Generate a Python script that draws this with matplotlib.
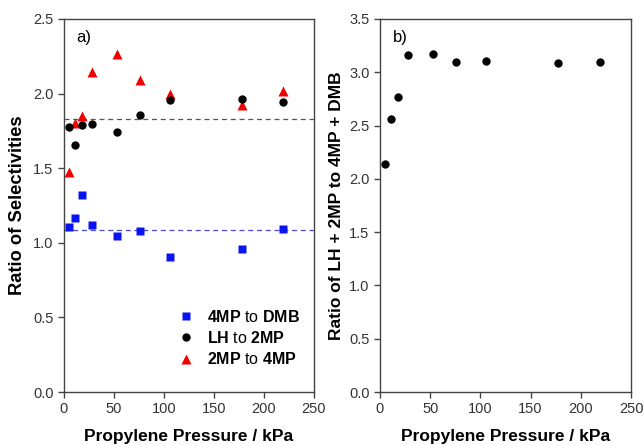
import numpy as np
import matplotlib
matplotlib.use("Agg")
import matplotlib.pyplot as plt

plt.rcParams['font.family'] = ['Liberation Sans', 'DejaVu Sans']
plt.rcParams['mathtext.fontset'] = 'custom'
plt.rcParams['mathtext.rm'] = 'Liberation Sans'
plt.rcParams['mathtext.bf'] = 'Liberation Sans:bold'

# propylene pressure (kPa)
pressure = [5, 10.5, 17.5, 27.5, 53, 75.5, 106, 177.5, 219]

# panel a) ratios of selectivities
r_4mp_dmb = [1.106, 1.166, 1.322, 1.119, 1.048, 1.079, 0.907, 0.961, 1.092]
r_lh_2mp = [1.776, 1.655, 1.787, 1.796, 1.745, 1.857, 1.955, 1.964, 1.944]
r_2mp_4mp = [1.474, 1.80, 1.85, 2.145, 2.265, 2.09, 2.0, 1.925, 2.02]
avg_4mp_dmb = 1.083
avg_lh_2mp = 1.832

# panel b) ratio of LH + 2MP to 4MP + DMB
r_total = [2.139, 2.564, 2.77, 3.158, 3.174, 3.093, 3.102, 3.083, 3.099]

fig = plt.figure(figsize=(6.44, 4.45), dpi=100)
ax1 = fig.add_axes([64/644, 1 - 392/445, 250/644, 373/445])
ax2 = fig.add_axes([380/644, 1 - 392/445, 251/644, 373/445])

ax1.axhline(avg_lh_2mp, color='#555555', ls=(0, (4, 3)), lw=0.9, zorder=1)
ax1.axhline(avg_4mp_dmb, color='#4a4ae8', ls=(0, (4, 3)), lw=0.9, zorder=1)
ax1.plot(pressure, r_4mp_dmb, 's', color='#0a14f0', ms=5.2, mec='none',
         label=r'$\bf{4MP}$ to $\bf{DMB}$', zorder=3)
ax1.plot(pressure, r_lh_2mp, 'o', color='black', ms=6, mec='none',
         label=r'$\bf{LH}$ to $\bf{2MP}$', zorder=3)
ax1.plot(pressure, r_2mp_4mp, '^', color='#f00000', ms=7, mec='none',
         label=r'$\bf{2MP}$ to $\bf{4MP}$', zorder=2)
ax1.set_ylim(0, 2.5)
ax1.set_yticks(np.arange(0, 2.51, 0.5))
ax1.set_ylabel('Ratio of Selectivities', fontsize=13.2, fontweight='bold', labelpad=5)
ax1.text(0.05, 0.97, 'a)', transform=ax1.transAxes, fontsize=12, va='top')
leg = ax1.legend(loc='lower right', bbox_to_anchor=(1.0, 0.028), frameon=False,
                 fontsize=11.5, handletextpad=0.55, labelspacing=0.33,
                 handlelength=1.5)

ax2.plot(pressure, r_total, 'o', color='black', ms=6, mec='none')
ax2.set_ylim(0, 3.5)
ax2.set_yticks(np.arange(0, 3.51, 0.5))
ax2.set_ylabel('Ratio of LH + 2MP to 4MP + DMB', fontsize=12.5, fontweight='bold', labelpad=4)
ax2.text(0.05, 0.97, 'b)', transform=ax2.transAxes, fontsize=12, va='top')

for ax in (ax1, ax2):
    ax.set_xlim(0, 250)
    ax.set_xticks(np.arange(0, 251, 50))
    ax.set_xlabel('Propylene Pressure / kPa', fontsize=12.5, fontweight='bold', labelpad=9)
    ax.tick_params(direction='out', length=4.5, width=1, colors='#444444', pad=3,
                   labelsize=10.5, labelcolor='#333333')
    for s in ax.spines.values():
        s.set_color('#444444')
        s.set_linewidth(1)
    ax.yaxis.set_major_formatter(matplotlib.ticker.FormatStrFormatter('%.1f'))

fig.savefig('out.png', dpi=100)
